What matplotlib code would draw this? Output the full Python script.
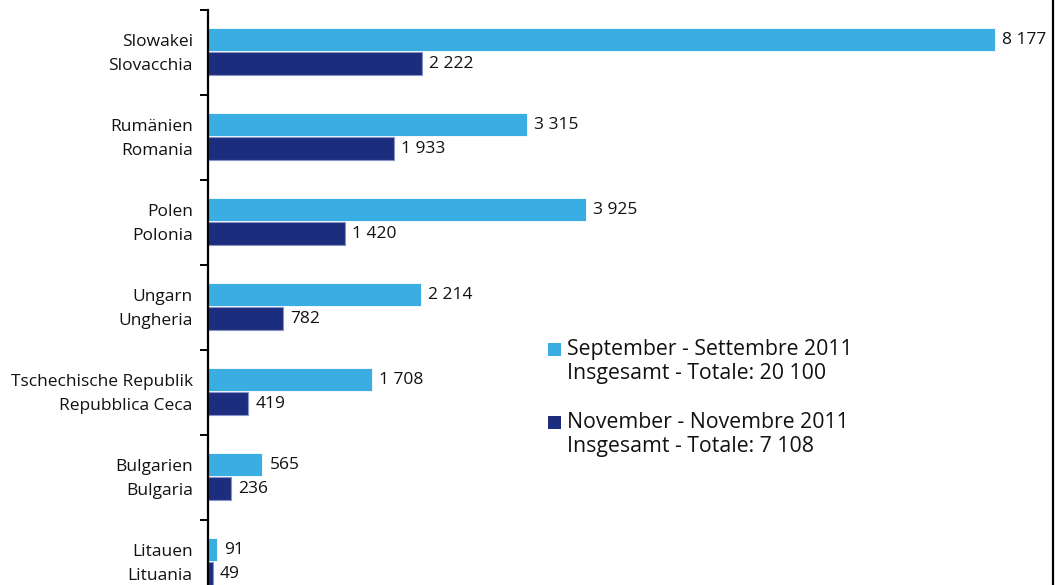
import matplotlib.pyplot as plt
from matplotlib.patches import Rectangle
from matplotlib.lines import Line2D
import numpy as np

plt.rcParams['font.family'] = ['Open Sans', 'DejaVu Sans']

# data (top to bottom)
countries_de = ["Slowakei", "Rumänien", "Polen", "Ungarn",
                "Tschechische Republik", "Bulgarien", "Litauen"]
countries_it = ["Slovacchia", "Romania", "Polonia", "Ungheria",
                "Repubblica Ceca", "Bulgaria", "Lituania"]
sep_2011 = [8177, 3315, 3925, 2214, 1708, 565, 91]
nov_2011 = [2222, 1933, 1420, 782, 419, 236, 49]

legend_sep = ["September - Settembre 2011", "Insgesamt - Totale: 20 100"]
legend_nov = ["November - Novembre 2011", "Insgesamt - Totale: 7 108"]

c_light = '#3AAEE2'
c_dark = '#1C2D7E'

W, H = 1057, 585
fig = plt.figure(figsize=(W / 100, H / 100), dpi=100)


def px(x, y):
    return x / W, 1 - y / H


# axes: left spine at x=208px, top at y=10px, runs off bottom
ax = fig.add_axes([208 / W, 0, (1053 - 208) / W, 1 - 10 / H])
scale = 787 / 8177  # px per unit

y = np.arange(len(countries_de))
h = 0.272
off_sep = -0.152
off_nov = 0.13
ax.barh(y + off_sep, sep_2011, height=h, color=c_light, edgecolor='white', linewidth=0.6)
ax.barh(y + off_nov, nov_2011, height=h, color=c_dark, edgecolor='#8a93c8', linewidth=0.8)


def fmt(v):
    return f"{v:,}".replace(",", " ")


for yi, v in zip(y + off_sep, sep_2011):
    ax.annotate(fmt(v), (v, yi), xytext=(7, 0), textcoords='offset pixels',
                va='center', ha='left', fontsize=12.5, color='#111111')
for yi, v in zip(y + off_nov, nov_2011):
    ax.annotate(fmt(v), (v, yi), xytext=(7, 0), textcoords='offset pixels',
                va='center', ha='left', fontsize=12.5, color='#111111')

# category labels on each bar row
ticks = np.concatenate([y + off_sep, y + off_nov])
labels = countries_de + countries_it
ax.set_yticks(ticks)
ax.set_yticklabels(labels, fontsize=12.5, color='#111111')
ax.tick_params(axis='y', which='major', length=0, pad=11)
ax.set_yticks(np.arange(-0.5, len(y), 1.0), minor=True)
ax.tick_params(axis='y', which='minor', length=5.5, width=1.4, direction='out')
ax.set_xticks([])

# limits after ticks so they are not expanded
ax.set_xlim(0, (1053 - 208) / scale)
ax.set_ylim(-0.5 + 575 / 85, -0.5)

for s in ['top', 'right', 'bottom']:
    ax.spines[s].set_visible(False)
ax.spines['left'].set_linewidth(1.6)

# legend drawn by hand
for (sq_y, lines, col) in [(349, legend_sep, c_light), (422, legend_nov, c_dark)]:
    x0, y0 = px(548, sq_y + 6.5)
    fig.add_artist(Rectangle((x0, y0), 13 / W, 13 / H, transform=fig.transFigure,
                             facecolor=col, edgecolor='none'))
    for k, t in enumerate(lines):
        tx, ty = px(567, sq_y + 24.5 * k)
        fig.text(tx, ty, t, fontsize=15.3, va='center', ha='left', color='#111111')

# frame line at the right edge
fig.add_artist(Line2D([1053 / W, 1053 / W], [0, 1], transform=fig.transFigure,
                      color='black', linewidth=1.6))

fig.savefig('out.png', dpi=100)
